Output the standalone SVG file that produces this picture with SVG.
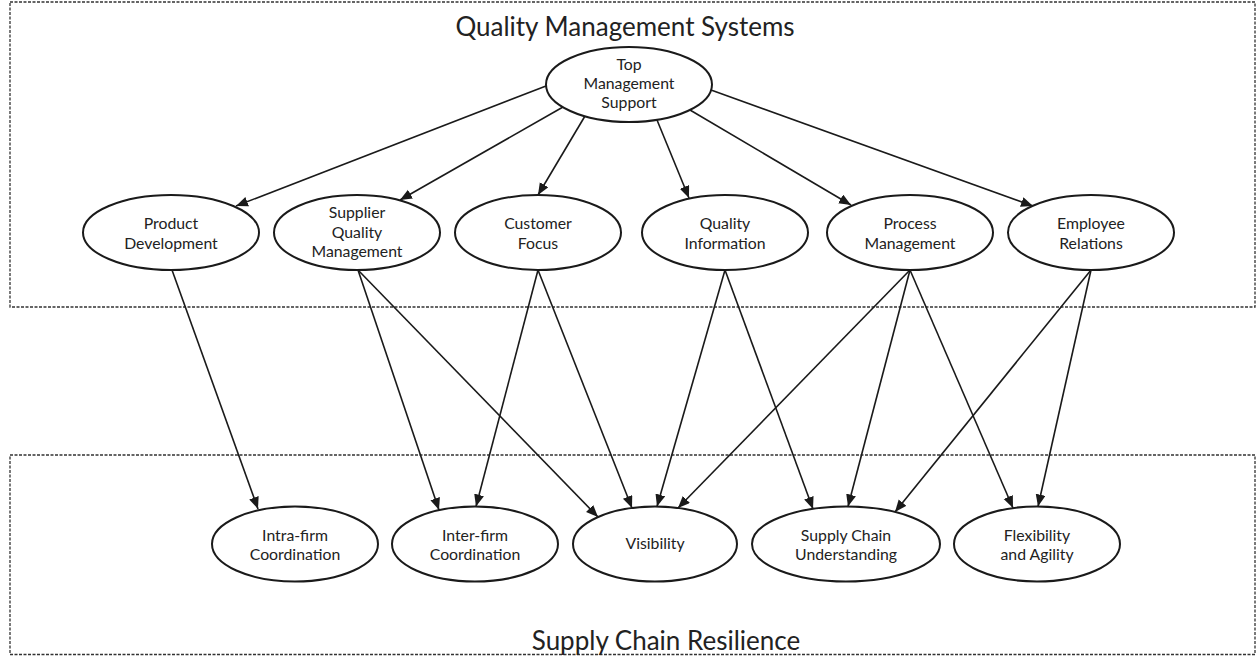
<svg xmlns="http://www.w3.org/2000/svg" width="1258" height="656" viewBox="0 0 1258 656">
<style>
.box{fill:none;stroke:#333;stroke-width:1.3;stroke-dasharray:3 1.5}
.node ellipse{fill:#fff;stroke:#1a1a1a;stroke-width:2}
.node text{font-family:Lato,"Liberation Sans",sans-serif;font-size:15.8px;fill:#222;text-anchor:middle}
.title{font-family:Lato,"Liberation Sans",sans-serif;font-size:26px;fill:#222;text-anchor:middle}
#connectors line{stroke:#1a1a1a;stroke-width:1.6;marker-end:url(#arr)}
</style>
<defs>
<marker id="arr" markerUnits="userSpaceOnUse" markerWidth="13" markerHeight="11" refX="12" refY="5" orient="auto">
<path d="M0,0 L12,5 L0,10 Z" fill="#1a1a1a"/>
</marker>
</defs>
<rect class="box" x="10" y="2" width="1245" height="305"/>
<rect class="box" x="10" y="455" width="1245" height="199.5"/>
<text class="title" x="625" y="36">Quality Management Systems</text>
<text class="title" x="666" y="650">Supply Chain Resilience</text>
<g id="connectors">
<line x1="546" y1="86" x2="236" y2="206"/>
<line x1="563" y1="107" x2="400" y2="200"/>
<line x1="585" y1="116" x2="538" y2="195"/>
<line x1="657" y1="120" x2="689" y2="198"/>
<line x1="690" y1="110" x2="851" y2="205"/>
<line x1="711" y1="90" x2="1033" y2="206"/>
<line x1="172" y1="270" x2="258" y2="509"/>
<line x1="358" y1="270" x2="439" y2="510"/>
<line x1="358" y1="270" x2="598" y2="517"/>
<line x1="538" y1="270" x2="476" y2="506.5"/>
<line x1="538" y1="270" x2="632" y2="508"/>
<line x1="725" y1="270" x2="657" y2="506.5"/>
<line x1="725" y1="270" x2="813" y2="509"/>
<line x1="910" y1="270" x2="678" y2="508"/>
<line x1="910" y1="270" x2="848" y2="506.5"/>
<line x1="910" y1="270" x2="1013" y2="508"/>
<line x1="1091" y1="270" x2="895" y2="512"/>
<line x1="1091" y1="270" x2="1038" y2="506.5"/>
</g>
<g id="top-management-support" class="node">
<ellipse cx="629" cy="84.5" rx="83" ry="37.5"/>
<text x="629" y="70">Top</text>
<text x="629" y="89">Management</text>
<text x="629" y="108">Support</text>
</g>
<g id="product-development" class="node">
<ellipse cx="171" cy="232.5" rx="88" ry="37.5"/>
<text x="171" y="228.5">Product</text>
<text x="171" y="248.5">Development</text>
</g>
<g id="supplier-quality-management" class="node">
<ellipse cx="357" cy="232.5" rx="83" ry="37.5"/>
<text x="357" y="218">Supplier</text>
<text x="357" y="237.5">Quality</text>
<text x="357" y="257">Management</text>
</g>
<g id="customer-focus" class="node">
<ellipse cx="538" cy="232.5" rx="83" ry="37.5"/>
<text x="538" y="228.5">Customer</text>
<text x="538" y="248.5">Focus</text>
</g>
<g id="quality-information" class="node">
<ellipse cx="725" cy="232.5" rx="83" ry="37.5"/>
<text x="725" y="228.5">Quality</text>
<text x="725" y="248.5">Information</text>
</g>
<g id="process-management" class="node">
<ellipse cx="910" cy="232.5" rx="83" ry="37.5"/>
<text x="910" y="228.5">Process</text>
<text x="910" y="248.5">Management</text>
</g>
<g id="employee-relations" class="node">
<ellipse cx="1091" cy="232.5" rx="83" ry="37.5"/>
<text x="1091" y="228.5">Employee</text>
<text x="1091" y="248.5">Relations</text>
</g>
<g id="intra-firm-coordination" class="node">
<ellipse cx="295" cy="544" rx="83" ry="37.5"/>
<text x="295" y="540.5">Intra-firm</text>
<text x="295" y="560">Coordination</text>
</g>
<g id="inter-firm-coordination" class="node">
<ellipse cx="475" cy="544" rx="83" ry="37.5"/>
<text x="475" y="540.5">Inter-firm</text>
<text x="475" y="560">Coordination</text>
</g>
<g id="visibility" class="node">
<ellipse cx="655" cy="544" rx="82" ry="37.5"/>
<text x="655" y="549">Visibility</text>
</g>
<g id="supply-chain-understanding" class="node">
<ellipse cx="846" cy="544" rx="94" ry="37.5"/>
<text x="846" y="540.5">Supply Chain</text>
<text x="846" y="560">Understanding</text>
</g>
<g id="flexibility-and-agility" class="node">
<ellipse cx="1037" cy="544" rx="83" ry="37.5"/>
<text x="1037" y="540.5">Flexibility</text>
<text x="1037" y="560">and Agility</text>
</g>
</svg>
